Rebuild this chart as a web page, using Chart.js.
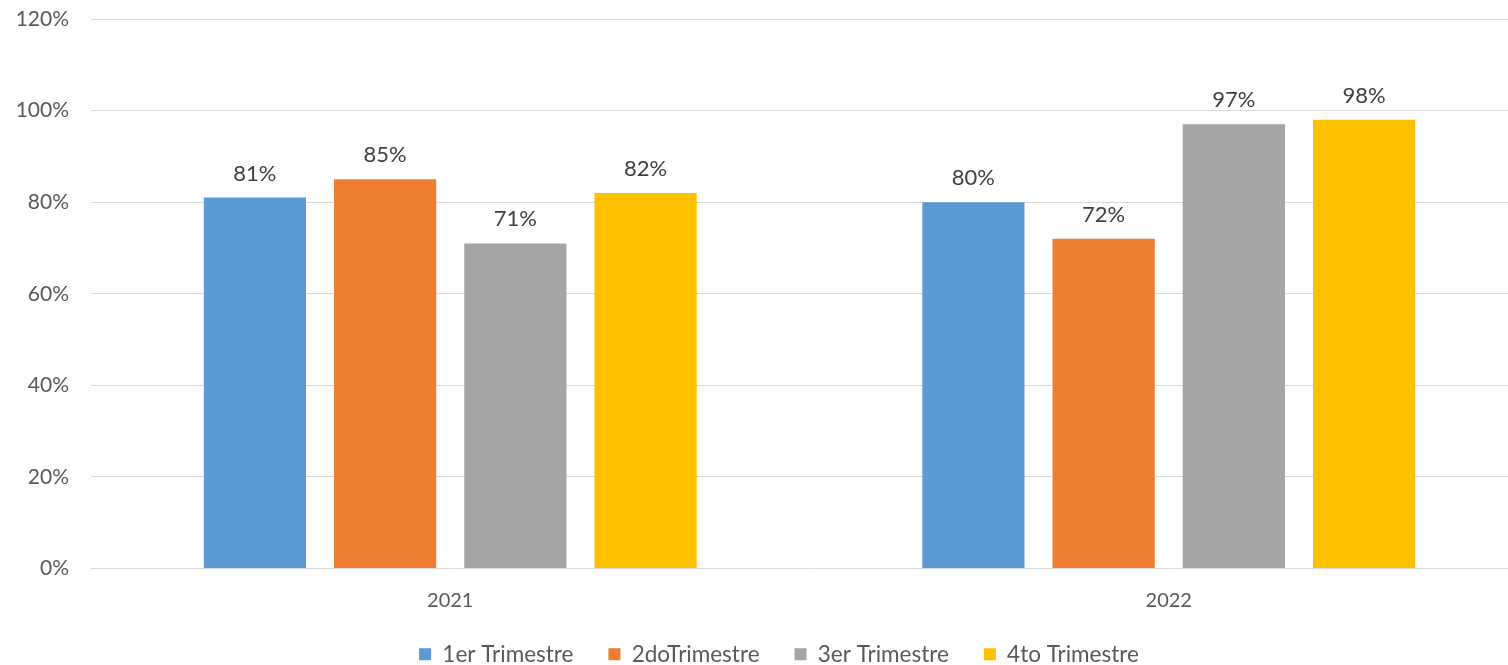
<!DOCTYPE html>
<html>
<head>
<meta charset="utf-8">
<script src="https://cdn.jsdelivr.net/npm/chart.js@4"></script>
<style>
  html, body { margin: 0; padding: 0; background: #fff; overflow: hidden; }
  #wrap { width: 1558px; height: 665px; position: relative; }
</style>
</head>
<body>
<div id="wrap"><canvas id="chart"></canvas></div>
<script>
const years = ['2021', '2022'];
const seriesNames = ['1er Trimestre', '2doTrimestre', '3er Trimestre', '4to Trimestre'];
const q1 = [81, 80];
const q2 = [85, 72];
const q3 = [71, 97];
const q4 = [82, 98];
const colors = ['#5B9BD5', '#ED7D31', '#A5A5A5', '#FFC000'];

const FONT = 'Lato, "Open Sans", sans-serif';

// percent labels above each bar
const valueLabels = {
  id: 'valueLabels',
  afterDatasetsDraw(chart) {
    const ctx = chart.ctx;
    ctx.save();
    ctx.font = '22px ' + FONT;
    ctx.fillStyle = '#404040';
    ctx.textAlign = 'center';
    ctx.textBaseline = 'bottom';
    chart.data.datasets.forEach((ds, i) => {
      chart.getDatasetMeta(i).data.forEach((bar, j) => {
        ctx.fillText(ds.data[j] + '%', bar.x, bar.y - 13);
      });
    });
    ctx.restore();
  }
};

// put the legend row at the very bottom, centred under the plot
const legendShift = {
  id: 'legendShift',
  afterLayout(chart) {
    const lg = chart.legend;
    const h = lg.bottom - lg.top;
    lg.left += 15; lg.right += 15;
    lg.top = 608; lg.bottom = 608 + h;
  }
};

const ctx = document.getElementById('chart').getContext('2d');
new Chart(ctx, {
  type: 'bar',
  data: {
    labels: years,
    datasets: [q1, q2, q3, q4].map((d, i) => ({
      label: seriesNames[i],
      data: d,
      backgroundColor: colors[i],
      borderWidth: 0,
      categoryPercentage: 0.725,
      barPercentage: 0.785
    }))
  },
  options: {
    responsive: true,
    maintainAspectRatio: false,
    animation: false,
    layout: { padding: { top: 19, right: 30, left: 0, bottom: -27 } },
    scales: {
      x: {
        grid: { display: false, drawTicks: false },
        border: { display: false },
        ticks: { color: '#595959', font: { family: FONT, size: 20 }, padding: 20 },
        afterFit: s => { s.height = 56; }
      },
      y: {
        min: 0,
        max: 120,
        grid: { color: '#D9D9D9', lineWidth: 1, drawTicks: false },
        border: { display: false },
        ticks: {
          stepSize: 20,
          color: '#595959',
          font: { family: FONT, size: 21 },
          padding: 22,
          callback: v => v + '%'
        },
        afterFit: s => {
          s.width = 91;
          s.paddingTop = 0;
          s.paddingBottom = 0;
        }
      }
    },
    plugins: {
      legend: {
        position: 'bottom',
        labels: {
          color: '#595959',
          font: { family: FONT, size: 22.5 },
          boxWidth: 12,
          boxHeight: 12,
          padding: 35
        }
      },
      tooltip: { enabled: false }
    }
  },
  plugins: [valueLabels, legendShift]
});
</script>
</body>
</html>
